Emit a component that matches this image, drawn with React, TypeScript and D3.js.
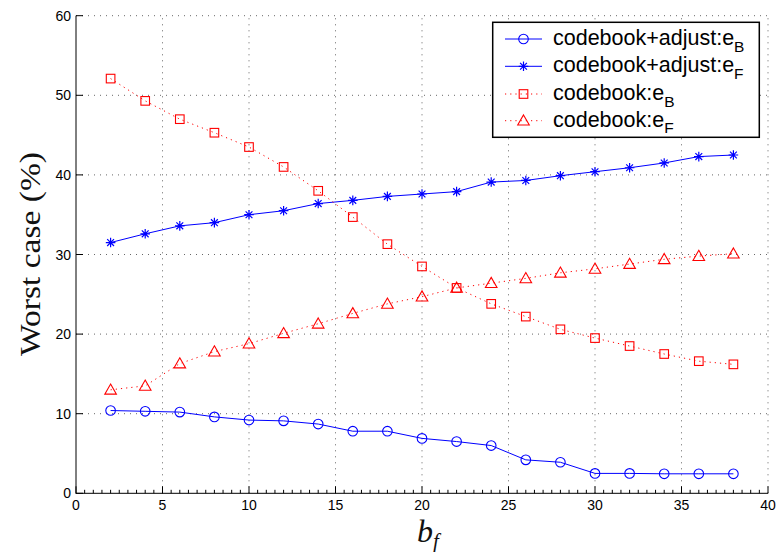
import React, { useEffect, useRef } from "react";
import * as d3 from "d3";

const bfValues = [2, 4, 6, 8, 10, 12, 14, 16, 18, 20, 22, 24, 26, 28, 30, 32, 34, 36, 38];
const adjustEB = [10.4, 10.3, 10.2, 9.6, 9.2, 9.1, 8.7, 7.8, 7.8, 6.9, 6.5, 6.0, 4.2, 3.9, 2.5, 2.5, 2.45, 2.45, 2.45];
const adjustEF = [31.5, 32.6, 33.6, 34.0, 35.0, 35.5, 36.4, 36.8, 37.3, 37.6, 37.9, 39.1, 39.3, 39.9, 40.4, 40.9, 41.5, 42.3, 42.5];
const codebookEB = [52.1, 49.3, 47.0, 45.3, 43.5, 41.0, 38.0, 34.7, 31.3, 28.5, 25.8, 23.8, 22.2, 20.6, 19.5, 18.5, 17.5, 16.6, 16.2];
const codebookEF = [13.0, 13.5, 16.3, 17.8, 18.8, 20.1, 21.3, 22.6, 23.8, 24.7, 25.8, 26.4, 27.0, 27.7, 28.2, 28.8, 29.4, 29.8, 30.1];
const xTicks = [0, 5, 10, 15, 20, 25, 30, 35, 40];
const yTicks = [0, 10, 20, 30, 40, 50, 60];
const legendLabels = [
  { main: "codebook+adjust:e", sub: "B" },
  { main: "codebook+adjust:e", sub: "F" },
  { main: "codebook:e", sub: "B" },
  { main: "codebook:e", sub: "F" },
];

const W = 776, H = 552;
const L = 76, R = 768, T = 15.7, B = 493.3;
const BLUE = "#0000ff", RED = "#ff0000";

function drawMarker(g: any, kind: string, x: number, y: number) {
  if (kind === "circle") {
    g.append("circle").attr("cx", x).attr("cy", y).attr("r", 4.8)
      .attr("fill", "none").attr("stroke", BLUE).attr("stroke-width", 1.1);
  } else if (kind === "star") {
    const s = 4.8, d = 3.4;
    const p = `M${x - s},${y}L${x + s},${y}M${x},${y - s}L${x},${y + s}M${x - d},${y - d}L${x + d},${y + d}M${x - d},${y + d}L${x + d},${y - d}`;
    g.append("path").attr("d", p).attr("stroke", BLUE).attr("stroke-width", 1.2).attr("fill", "none");
  } else if (kind === "square") {
    const s = 4.3;
    g.append("rect").attr("x", x - s).attr("y", y - s).attr("width", 2 * s).attr("height", 2 * s)
      .attr("fill", "none").attr("stroke", RED).attr("stroke-width", 1.1);
  } else if (kind === "triangle") {
    const s = 5.8;
    g.append("path").attr("d", `M${x},${y - s}L${x + s},${y + s * 0.75}L${x - s},${y + s * 0.75}Z`)
      .attr("fill", "none").attr("stroke", RED).attr("stroke-width", 1.1);
  }
}

export default function App() {
  const ref = useRef<SVGSVGElement>(null);
  useEffect(() => {
    const svg = d3.select(ref.current);
    svg.selectAll("*").remove();
    const x = d3.scaleLinear().domain([0, 40]).range([L, R]);
    const y = d3.scaleLinear().domain([0, 60]).range([B, T]);

    // grid
    const grid = svg.append("g").attr("stroke", "#404040").attr("stroke-width", 0.8).attr("stroke-dasharray", "1 5");
    xTicks.filter((t) => t > 0).forEach((t) => {
      grid.append("line").attr("x1", x(t)).attr("x2", x(t)).attr("y1", B).attr("y2", T);
    });
    yTicks.filter((t) => t > 0).forEach((t) => {
      grid.append("line").attr("x1", L).attr("x2", R).attr("y1", y(t)).attr("y2", y(t));
    });

    // axes
    const ax = svg.append("g").attr("stroke", "#000").attr("stroke-width", 1);
    ax.append("line").attr("x1", L).attr("x2", L).attr("y1", T).attr("y2", B + 0.5);
    ax.append("line").attr("x1", L).attr("x2", R).attr("y1", B).attr("y2", B);
    d3.range(0, 40.01, 0.5).forEach((t) => {
      const major = t % 5 === 0;
      ax.append("line").attr("x1", x(t)).attr("x2", x(t)).attr("y1", B).attr("y2", B - (major ? 7 : 3.5));
    });
    yTicks.forEach((t) => {
      ax.append("line").attr("x1", L).attr("x2", L + 7).attr("y1", y(t)).attr("y2", y(t));
    });

    const tickFont = "'Liberation Sans', Arial, sans-serif";
    xTicks.forEach((t) => {
      svg.append("text").attr("x", x(t)).attr("y", B + 17).attr("text-anchor", "middle")
        .attr("font-family", tickFont).attr("font-size", 14).attr("fill", "#000").text(String(t));
    });
    yTicks.forEach((t) => {
      svg.append("text").attr("x", L - 5).attr("y", y(t) + 5).attr("text-anchor", "end")
        .attr("font-family", tickFont).attr("font-size", 14).attr("fill", "#000").text(String(t));
    });

    // axis labels
    svg.append("text").attr("transform", `translate(40,254) rotate(-90)`).attr("text-anchor", "middle")
      .attr("font-family", "'Liberation Serif', 'Times New Roman', serif").attr("font-size", 29)
      .attr("textLength", 204).attr("lengthAdjust", "spacingAndGlyphs")
      .attr("fill", "#111").text("Worst case (%)");
    const xl = svg.append("text").attr("x", 428).attr("y", 542).attr("text-anchor", "middle")
      .attr("font-family", "'Liberation Serif', 'Times New Roman', serif").attr("font-style", "italic").attr("fill", "#111");
    xl.append("tspan").attr("font-size", 32).text("b");
    xl.append("tspan").attr("font-size", 21).attr("dy", 6).text("f");

    // series
    const series = [
      { vals: adjustEB, color: BLUE, dash: null, marker: "circle" },
      { vals: adjustEF, color: BLUE, dash: null, marker: "star" },
      { vals: codebookEB, color: RED, dash: "1.2 4", marker: "square" },
      { vals: codebookEF, color: RED, dash: "1.2 4", marker: "triangle" },
    ];
    const line = d3.line<number>().x((_, i) => x(bfValues[i])).y((d) => y(d));
    series.forEach((s) => {
      const p = svg.append("path").attr("d", line(s.vals)).attr("fill", "none")
        .attr("stroke", s.color).attr("stroke-width", 1);
      if (s.dash) p.attr("stroke-dasharray", s.dash);
      const g = svg.append("g");
      s.vals.forEach((v, i) => drawMarker(g, s.marker, x(bfValues[i]), y(v)));
    });

    // legend
    const lg = svg.append("g");
    lg.append("rect").attr("x", 492.7).attr("y", 22.3).attr("width", 266.6).attr("height", 115)
      .attr("fill", "#fff").attr("stroke", "#000").attr("stroke-width", 1.5);
    const rowY = [39, 66.3, 94, 120.7];
    series.forEach((s, i) => {
      const ly = rowY[i];
      const p = lg.append("line").attr("x1", 505).attr("x2", 542).attr("y1", ly).attr("y2", ly)
        .attr("stroke", s.color).attr("stroke-width", 1);
      if (s.dash) p.attr("stroke-dasharray", s.dash);
      drawMarker(lg, s.marker, 523.5, ly);
      const t = lg.append("text").attr("x", 553).attr("y", ly + 6)
        .attr("font-family", tickFont).attr("font-size", 21.5).attr("fill", "#000");
      t.append("tspan").text(legendLabels[i].main);
      t.append("tspan").attr("font-size", 15.5).attr("dy", 6.5).text(legendLabels[i].sub);
    });
  }, []);
  return (
    <svg ref={ref} width={W} height={H} style={{ position: "absolute", left: 0, top: 0, background: "#fff" }} />
  );
}
